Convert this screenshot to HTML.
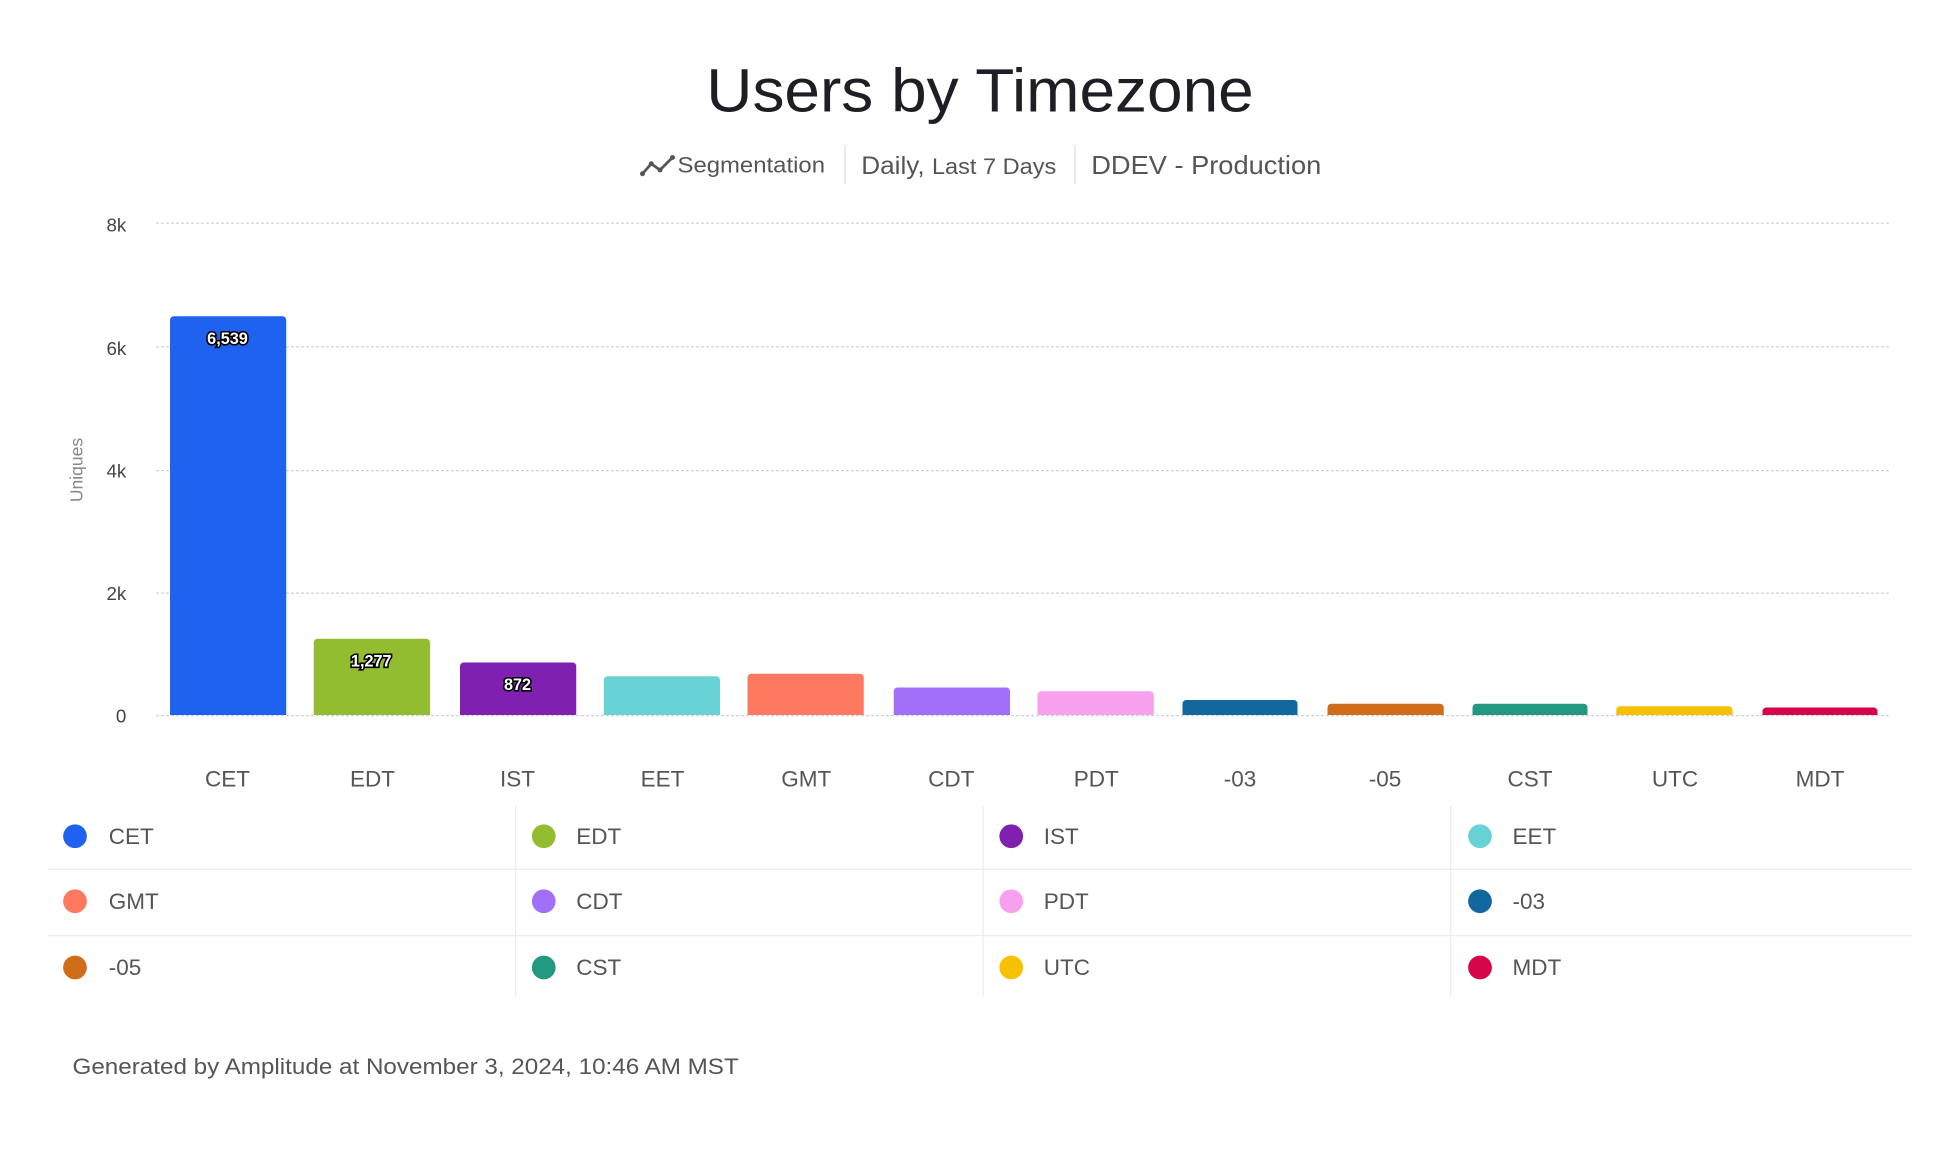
<!DOCTYPE html>
<html><head><meta charset="utf-8"><style>
html,body{margin:0;padding:0;background:#fff;}
svg{display:block;font-family:"Liberation Sans",sans-serif;}
</style></head><body>
<svg width="1960" height="1152" viewBox="0 0 1568 921.6" xmlns="http://www.w3.org/2000/svg">
<rect width="1568" height="921.6" fill="#fff"/>
<text x="565" y="89" textLength="438" lengthAdjust="spacingAndGlyphs" font-size="49" fill="#1e1e24">Users by Timezone</text>
<g fill="none" stroke="#555" stroke-width="2.2" stroke-linecap="round" stroke-linejoin="round">
<polyline points="514,139 521,131 528,136 538,126"/>
</g>
<circle cx="514" cy="139" r="2" fill="#555"/><circle cx="521" cy="131" r="2" fill="#555"/><circle cx="528" cy="136" r="2" fill="#555"/><circle cx="538" cy="126" r="2" fill="#555"/>
<text x="542" y="138" font-size="18" fill="#555" textLength="118" lengthAdjust="spacingAndGlyphs">Segmentation</text>
<line x1="676" y1="116" x2="676" y2="147" stroke="#ddd"/>
<text x="689" y="139" font-size="20" fill="#555" textLength="156" lengthAdjust="spacingAndGlyphs">Daily, <tspan font-size="18">Last 7 Days</tspan></text>
<line x1="860" y1="116" x2="860" y2="147" stroke="#ddd"/>
<text x="873" y="139" font-size="21" fill="#555" textLength="184" lengthAdjust="spacingAndGlyphs">DDEV - Production</text>
<g stroke="#c4ccd4" stroke-width="1" stroke-dasharray="2,2">
<line x1="125" y1="178.5" x2="1512" y2="178.5"/>
<line x1="125" y1="277.5" x2="1512" y2="277.5"/>
<line x1="125" y1="376.5" x2="1512" y2="376.5"/>
<line x1="125" y1="474.5" x2="1512" y2="474.5"/>
<line x1="125" y1="572.5" x2="1512" y2="572.5"/>
</g>
<g font-size="15" fill="#444" text-anchor="end">
<text x="101" y="185">8k</text><text x="101" y="284">6k</text><text x="101" y="382">4k</text><text x="101" y="480">2k</text><text x="101" y="578">0</text>
</g>
<text transform="translate(66,376) rotate(-90)" text-anchor="middle" font-size="14" fill="#888">Uniques</text>
<g>
<path d="M136,572V256a3,3 0 0 1 3,-3H226a3,3 0 0 1 3,3V572Z" fill="#1f62f0"/>
<path d="M251,572V514a3,3 0 0 1 3,-3H341a3,3 0 0 1 3,3V572Z" fill="#93bd30"/>
<path d="M368,572V533a3,3 0 0 1 3,-3H458a3,3 0 0 1 3,3V572Z" fill="#7f20b0"/>
<path d="M483,572V544a3,3 0 0 1 3,-3H573a3,3 0 0 1 3,3V572Z" fill="#68d2d6"/>
<path d="M598,572V542a3,3 0 0 1 3,-3H688a3,3 0 0 1 3,3V572Z" fill="#ff7860"/>
<path d="M715,572V553a3,3 0 0 1 3,-3H805a3,3 0 0 1 3,3V572Z" fill="#a26ff8"/>
<path d="M830,572V556a3,3 0 0 1 3,-3H920a3,3 0 0 1 3,3V572Z" fill="#f7a0ee"/>
<path d="M946,572V563a3,3 0 0 1 3,-3H1035a3,3 0 0 1 3,3V572Z" fill="#12689e"/>
<path d="M1062,572V566a3,3 0 0 1 3,-3H1152a3,3 0 0 1 3,3V572Z" fill="#d06d1b"/>
<path d="M1178,572V566a3,3 0 0 1 3,-3H1267a3,3 0 0 1 3,3V572Z" fill="#21987f"/>
<path d="M1293,572V568a3,3 0 0 1 3,-3H1383a3,3 0 0 1 3,3V572Z" fill="#f8c100"/>
<path d="M1410,572V569a3,3 0 0 1 3,-3H1499a3,3 0 0 1 3,3V572Z" fill="#d6064a"/>
</g>
<g font-size="13" font-weight="bold" fill="#fff" stroke="#000" stroke-width="2.5" paint-order="stroke" text-anchor="middle">
<text x="182" y="275">6,539</text><text x="297" y="533">1,277</text><text x="414" y="552">872</text>
</g>
<g font-size="18" fill="#555" text-anchor="middle">
<text x="182" y="629">CET</text><text x="298" y="629">EDT</text><text x="414" y="629">IST</text><text x="530" y="629">EET</text><text x="645" y="629">GMT</text><text x="761" y="629">CDT</text><text x="877" y="629">PDT</text><text x="992" y="629">-03</text><text x="1108" y="629">-05</text><text x="1224" y="629">CST</text><text x="1340" y="629">UTC</text><text x="1456" y="629">MDT</text>
</g>
<g stroke="#ececec" stroke-width="1">
<line x1="38" y1="695.5" x2="1530" y2="695.5"/><line x1="38" y1="748.5" x2="1530" y2="748.5"/>
<line x1="412.5" y1="645" x2="412.5" y2="797"/><line x1="786.5" y1="645" x2="786.5" y2="797"/><line x1="1160.5" y1="645" x2="1160.5" y2="797"/>
</g>
<g>
<circle cx="60" cy="669" r="9.5" fill="#1f62f0"/><circle cx="435" cy="669" r="9.5" fill="#93bd30"/><circle cx="809" cy="669" r="9.5" fill="#7f20b0"/><circle cx="1184" cy="669" r="9.5" fill="#68d2d6"/>
<circle cx="60" cy="721" r="9.5" fill="#ff7860"/><circle cx="435" cy="721" r="9.5" fill="#a26ff8"/><circle cx="809" cy="721" r="9.5" fill="#f7a0ee"/><circle cx="1184" cy="721" r="9.5" fill="#12689e"/>
<circle cx="60" cy="774" r="9.5" fill="#d06d1b"/><circle cx="435" cy="774" r="9.5" fill="#21987f"/><circle cx="809" cy="774" r="9.5" fill="#f8c100"/><circle cx="1184" cy="774" r="9.5" fill="#d6064a"/>
</g>
<g font-size="18" fill="#555">
<text x="87" y="675">CET</text><text x="461" y="675">EDT</text><text x="835" y="675">IST</text><text x="1210" y="675">EET</text>
<text x="87" y="727">GMT</text><text x="461" y="727">CDT</text><text x="835" y="727">PDT</text><text x="1210" y="727">-03</text>
<text x="87" y="780">-05</text><text x="461" y="780">CST</text><text x="835" y="780">UTC</text><text x="1210" y="780">MDT</text>
</g>
<text x="58" y="859" font-size="18" fill="#555" textLength="533" lengthAdjust="spacingAndGlyphs">Generated by Amplitude at November 3, 2024, 10:46 AM MST</text>
</svg>
</body></html>
